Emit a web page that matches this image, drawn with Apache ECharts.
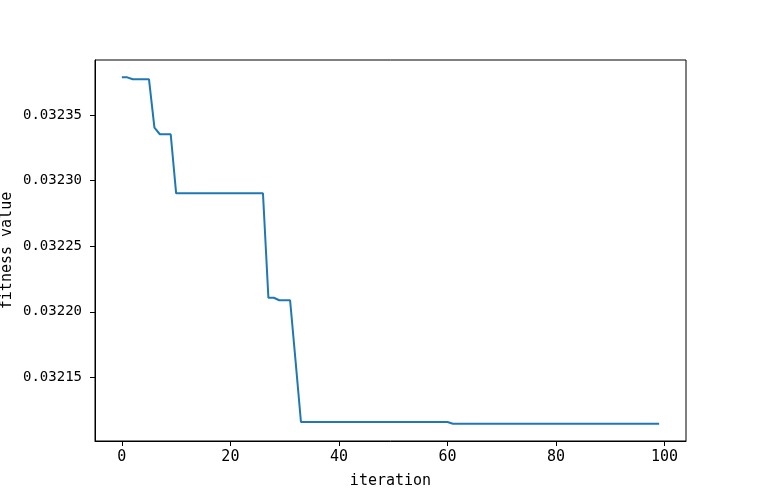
<!DOCTYPE html>
<html>
<head>
<meta charset="utf-8">
<script src="https://cdn.jsdelivr.net/npm/echarts@6/dist/echarts.min.js"></script>
<style>html,body{margin:0;padding:0;background:#fff}#c{width:762px;height:504px}</style>
</head>
<body>
<div id="c"></div>
<script>
const iterations = Array.from({length: 100}, (_, i) => i);
const fitness = [
  0.0323787, 0.0323787, 0.0323772, 0.0323772, 0.0323772, 0.0323772, 0.0323403, 0.0323353, 0.0323353, 0.0323353,
  0.0322903, 0.0322903, 0.0322903, 0.0322903, 0.0322903, 0.0322903, 0.0322903, 0.0322903, 0.0322903, 0.0322903,
  0.0322903, 0.0322903, 0.0322903, 0.0322903, 0.0322903, 0.0322903, 0.0322903, 0.0322107, 0.0322107, 0.0322088,
  0.0322088, 0.0322088, 0.0321628, 0.0321160, 0.0321160, 0.0321160, 0.0321160, 0.0321160, 0.0321160, 0.0321160,
  0.0321160, 0.0321160, 0.0321160, 0.0321160, 0.0321160, 0.0321160, 0.0321160, 0.0321160, 0.0321160, 0.0321160,
  0.0321160, 0.0321160, 0.0321160, 0.0321160, 0.0321160, 0.0321160, 0.0321160, 0.0321160, 0.0321160, 0.0321160,
  0.0321160, 0.0321147, 0.0321147, 0.0321147, 0.0321147, 0.0321147, 0.0321147, 0.0321147, 0.0321147, 0.0321147,
  0.0321147, 0.0321147, 0.0321147, 0.0321147, 0.0321147, 0.0321147, 0.0321147, 0.0321147, 0.0321147, 0.0321147,
  0.0321147, 0.0321147, 0.0321147, 0.0321147, 0.0321147, 0.0321147, 0.0321147, 0.0321147, 0.0321147, 0.0321147,
  0.0321147, 0.0321147, 0.0321147, 0.0321147, 0.0321147, 0.0321147, 0.0321147, 0.0321147, 0.0321147, 0.0321147
];
const xTicks = [0, 20, 40, 60, 80, 100];
const yTicks = [0.03215, 0.03220, 0.03225, 0.03230, 0.03235];

// matplotlib-style 5% margins
const xMinD = Math.min(...iterations), xMaxD = Math.max(...iterations);
const yMinD = Math.min(...fitness), yMaxD = Math.max(...fitness);
const xPad = (xMaxD - xMinD) * 0.05, yPad = (yMaxD - yMinD) * 0.05;

const font = '"DejaVu Sans Mono", monospace';
const chart = echarts.init(document.getElementById('c'), null, {renderer: 'canvas'});
chart.setOption({
  animation: false,
  backgroundColor: '#fff',
  grid: {left: 95, right: 76, top: 60, bottom: 63, show: true, borderColor: '#000', borderWidth: 1,
    containLabel: false, outerBoundsMode: 'none'},
  xAxis: {
    type: 'value',
    min: xMinD - xPad, max: xMaxD + xPad,
    name: 'iteration', nameLocation: 'middle', nameGap: 33, nameMoveOverlap: false,
    nameTextStyle: {fontFamily: font, fontSize: 15, color: '#000'},
    axisLine: {show: true, onZero: false, lineStyle: {color: '#000', width: 1}},
    axisTick: {show: true, length: 5, lineStyle: {color: '#000'}, customValues: xTicks},
    axisLabel: {fontFamily: font, fontSize: 15, color: '#000', margin: 9, customValues: xTicks,
      formatter: v => String(Math.round(v))},
    splitLine: {show: false}
  },
  yAxis: {
    type: 'value',
    min: yMinD - yPad, max: yMaxD + yPad,
    name: 'fitness value', nameLocation: 'middle', nameGap: 80, nameMoveOverlap: false,
    nameTextStyle: {fontFamily: font, fontSize: 15, color: '#000'},
    axisLine: {show: true, onZero: false, lineStyle: {color: '#000', width: 1}},
    axisTick: {show: true, length: 5, lineStyle: {color: '#000'}, customValues: yTicks},
    axisLabel: {fontFamily: font, fontSize: 14, color: '#000', margin: 13, customValues: yTicks,
      formatter: v => v.toFixed(5)},
    splitLine: {show: false}
  },
  series: [{
    type: 'line',
    data: iterations.map((x, i) => [x, fitness[i]]),
    showSymbol: false,
    lineStyle: {color: '#1f77b4', width: 2},
    itemStyle: {color: '#1f77b4'}
  }]
});
</script>
</body>
</html>
